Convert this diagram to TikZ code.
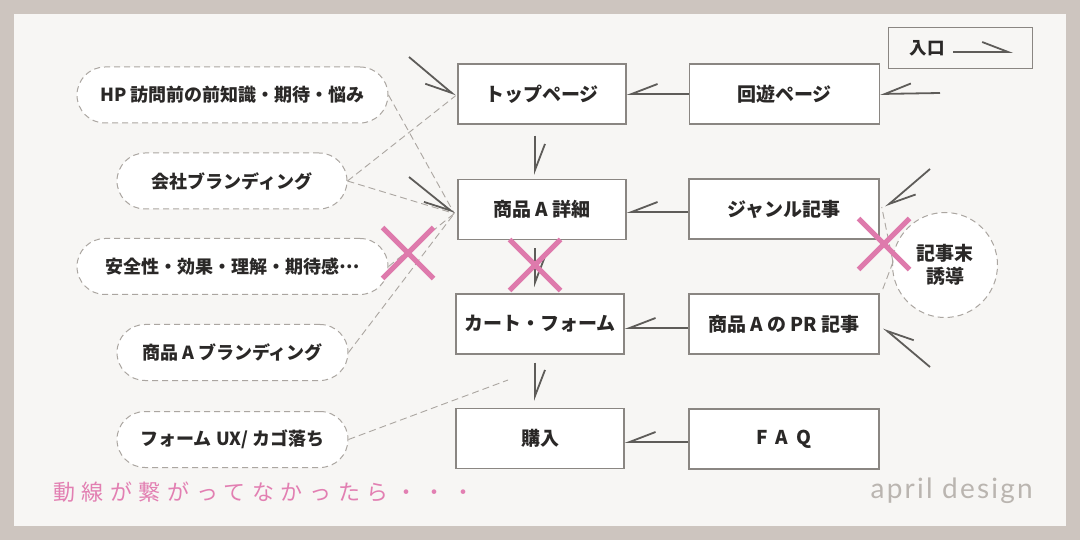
\documentclass[tikz,border=0pt]{standalone}
\usepackage{fontspec}
\setmainfont{Noto Sans CJK JP}
\newfontfamily\aprilfont{Lato}[LetterSpace=8]
\newfontfamily\pinkfont{Noto Sans CJK JP}[LetterSpace=30]
\usetikzlibrary{arrows.meta,calc,shapes.misc}
\definecolor{bgout}{HTML}{CDC5BF}
\definecolor{bgin}{HTML}{F7F6F4}
\definecolor{boxline}{HTML}{8A8682}
\definecolor{txt}{HTML}{2A2827}
\definecolor{arrc}{HTML}{5E5C59}
\definecolor{dashc}{HTML}{ABA6A1}
\definecolor{pinkx}{HTML}{DE7AAC}
\definecolor{pinkt}{HTML}{E27FB2}
\definecolor{aprilc}{HTML}{BAB5B0}
\begin{document}
\begin{tikzpicture}[x=1pt,y=-1pt,
  box/.style={draw=boxline, line width=1.4pt, fill=white, minimum width=168pt, minimum height=60pt, inner sep=0pt, text=txt, font=\fontsize{19}{22}\selectfont\bfseries},
  wbox/.style={box, minimum width=190pt},
  pill/.style={draw=dashc, line width=1pt, dash pattern=on 6pt off 4pt, fill=white, rounded corners=28pt, minimum height=56pt, inner sep=0pt, text=txt, font=\fontsize{18}{21}\selectfont\bfseries},
  dline/.style={draw=dashc, line width=0.9pt, dash pattern=on 7pt off 4pt},
  arrl/.style={draw=arrc, line width=1.8pt, -{Straight Barb[harpoon,length=26pt,width=20pt,line cap=butt]}},
  arrr/.style={draw=arrc, line width=1.8pt, -{Straight Barb[harpoon,swap,length=26pt,width=20pt,line cap=butt]}},
  xmark/.style={cross out, draw=pinkx, line width=5pt, minimum size=46pt, inner sep=0pt}
]
\useasboundingbox (0,0) rectangle (1080,540);
\fill[bgout] (0,0) rectangle (1080,540);
\fill[bgin] (14,14) rectangle (1066,526);

% legend
\node[draw=boxline, line width=1pt, minimum width=144pt, minimum height=41pt, inner sep=0pt] (legend) at (960,48.5) {};
\node[text=txt, font=\fontsize{17.5}{20}\selectfont\bfseries] (legtxt) at (927,48) {入口};
\coordinate (lg1) at (953,52);
\coordinate (lg2) at (1013,52);
\draw[arrl] (lg1) -- (lg2);

% pills
\node[pill, minimum width=311pt] (p1) at (232.5,95) {HP 訪問前の前知識・期待・悩み};
\node[pill, minimum width=230pt] (p2) at (232,181) {会社ブランディング};
\node[pill, minimum width=311pt] (p3) at (232.5,266.5) {安全性・効果・理解・期待感\raisebox{0.3em}{…}};
\node[pill, minimum width=231pt] (p4) at (232.5,352.5) {商品 A ブランディング};
\node[pill, minimum width=231pt] (p5) at (232.5,439.5) {フォーム UX/ カゴ落ち};

% boxes
\node[box] (top) at (542,94) {トップページ};
\node[box] (detail) at (542,209.5) {商品 A 詳細};
\node[box] (cart) at (540,324) {カート・フォーム};
\node[box] (buy) at (540,438.5) {購入};
\node[wbox] (kaiyu) at (784.5,94) {回遊ページ};
\node[wbox] (genre) at (784,209) {ジャンル記事};
\node[wbox] (pr) at (784,324) {商品 A の PR 記事};
\node[wbox] (faq) at (784,439) {F\hspace{0.4em}A\hspace{0.4em}Q};

% circle
\node[circle, draw=dashc, line width=1pt, dash pattern=on 6pt off 4pt, fill=white, minimum size=105pt, inner sep=0pt, align=center, text=txt, font=\fontsize{19}{22.5}\selectfont\bfseries] (kiji) at (945,265) {記事末\\誘導};

% tips / free ends
\coordinate (tipT) at ($(top.west)+(-2,2)$);
\coordinate (tipD) at ($(detail.west)+(-3,4)$);
\coordinate (s1) at (409,57);
\coordinate (s2) at (409,177);
\coordinate (s4) at (940,93);
\coordinate (s7) at (930,169);
\coordinate (s10) at (930,367);
\coordinate (f5) at (508,380);
\coordinate (kw) at ($(kiji.west)+(1,-3)$);

% dashed connectors
\draw[dline] (p1.east) -- (tipD);
\draw[dline] (p2.east) -- (tipT);
\draw[dline] (p2.east) -- (tipD);
\draw[dline] (p3.east) -- (tipD);
\draw[dline] (p4.east) -- (tipD);
\draw[dline] (p5.east) -- (f5);
\draw[dline] (kw) -- ($(genre.east)+(2,-2)$);
\draw[dline] (kw) -- ($(pr.north east)+(3,-4)$);

% arrows
\draw[arrr] (s1) -- (tipT);
\draw[arrr] (s2) -- (tipD);
\draw[arrr] (kaiyu.west) -- (top.east);
\draw[arrr] (s4) -- (kaiyu.east);
\draw[arrl] ($(top.south)+(-7,11)$) -- ($(detail.north)+(-7,-4)$);
\draw[arrr] ($(genre.west)+(0,3)$) -- ($(detail.east)+(0,2.5)$);
\draw[arrl] (s7) -- ($(genre.east)+(6,-2)$);
\draw[arrl] ($(detail.south)+(-7,8)$) -- ($(cart.north)+(-5,-6)$);
\draw[arrr] ($(pr.west)+(0,4)$) -- ($(cart.east)+(0,4)$);
\draw[arrr] (s10) -- ($(pr.east)+(4,4)$);
\draw[arrl] ($(cart.south)+(-5,8)$) -- ($(buy.north)+(-5,-7)$);
\draw[arrr] ($(faq.west)+(0,3)$) -- ($(buy.east)+(0,3.5)$);

% cross marks
\node[xmark] (x1) at (408,253) {};
\node[xmark] (x2) at (535,265) {};
\node[xmark] (x3) at (884,244) {};

% texts
\node[anchor=west, inner sep=0pt, text=pinkt, font=\pinkfont\fontsize{22}{25}\selectfont] (msg) at (53,492) {動線が繋がってなかったら・・・};
\node[anchor=base east, inner sep=0pt, text=aprilc, font=\aprilfont\fontsize{28}{32}\selectfont] (april) at (1033,498) {april design};
\end{tikzpicture}
\end{document}
